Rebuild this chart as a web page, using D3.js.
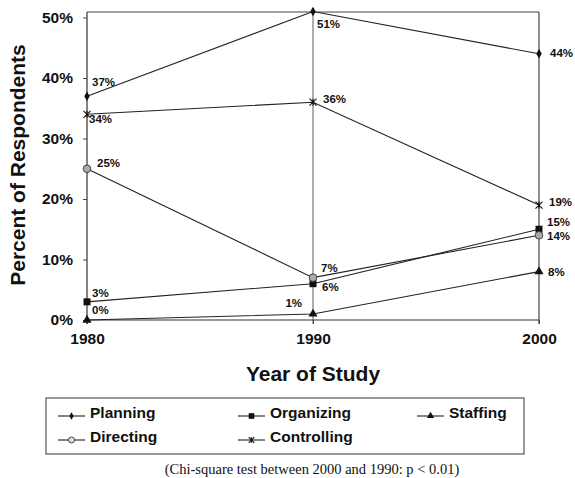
<!DOCTYPE html>
<html><head><meta charset="utf-8">
<script src="https://cdn.jsdelivr.net/npm/d3@7"></script>
<style>
html,body{margin:0;padding:0;background:#fff;}
svg{display:block;}
</style></head>
<body>
<svg id="chart" width="575" height="478"></svg>
<script>
// ---- data ----
const years = [1980, 1990, 2000];
const seriesNames = ["Planning", "Organizing", "Staffing", "Directing", "Controlling"];
const planning    = [37, 51, 44];
const organizing  = [3, 6, 15];
const staffing    = [0, 1, 8];
const directing   = [25, 7, 14];
const controlling = [34, 36, 19];
const yTicks = [0, 10, 20, 30, 40, 50];
const footnote = "(Chi-square test between 2000 and 1990: p < 0.01)";

// label offsets (layout only) per series per year: [dx, dy, anchor]
const labelOffsets = {
  Planning:    [[5,-14,"start"],[4,13,"start"],[11,-1,"start"]],
  Organizing:  [[5,-9,"start"],[9,3,"start"],[8,-7.5,"start"]],
  Staffing:    [[5,-10,"start"],[-11,-11,"end"],[9,0,"start"]],
  Directing:   [[10,-6,"start"],[8,-10,"start"],[8,0.5,"start"]],
  Controlling: [[2,5,"start"],[10,-3,"start"],[10,-3,"start"]]
};

const seriesValues = [planning, organizing, staffing, directing, controlling];
const series = seriesNames.map((n,i)=>({name:n, values:seriesValues[i]}));

const FONT = "'Liberation Sans', Arial, sans-serif";
const svg = d3.select("#chart");
const x = d3.scaleLinear().domain([1980, 2000]).range([87, 539]);
const y = d3.scaleLinear().domain([0, 50]).range([320, 17.5]);
const topY = 12;
const lineColor = "#222";

// frame
svg.append("line").attr("x1",x(1980)).attr("x2",x(2000)).attr("y1",topY).attr("y2",topY)
  .attr("stroke","#444").attr("stroke-width",1.2);
// 1990 vertical
svg.append("line").attr("x1",x(1990)).attr("x2",x(1990)).attr("y1",topY).attr("y2",324)
  .attr("stroke","#777").attr("stroke-width",1.2);
// right border
svg.append("line").attr("x1",x(2000)).attr("x2",x(2000)).attr("y1",topY).attr("y2",324)
  .attr("stroke","#444").attr("stroke-width",1.2);

// y axis
const yAxis = d3.axisLeft(y).tickValues(yTicks).tickSize(4).tickFormat(d=>d+"%");
const gy = svg.append("g").attr("transform",`translate(${x(1980)},0)`).call(yAxis);
gy.select(".domain").remove();
gy.append("line").attr("x1",0).attr("x2",0).attr("y1",topY).attr("y2",324)
  .attr("stroke","#333").attr("stroke-width",1.2);
gy.selectAll(".tick line").attr("stroke","#444");
gy.selectAll(".tick text").attr("x",-14).attr("font-family",FONT).attr("font-size",15.5)
  .attr("font-weight","bold").attr("fill","#111");

// x axis
const xAxis = d3.axisBottom(x).tickValues(years).tickSize(4).tickFormat(d3.format("d"));
const gx = svg.append("g").attr("transform",`translate(0,${y(0)})`).call(xAxis);
gx.select(".domain").attr("stroke","#333").attr("stroke-width",1.2).attr("d",`M${x(1980)},0H${x(2000)}`);
gx.selectAll(".tick line").attr("stroke","#444");
gx.selectAll(".tick text").attr("y",13).attr("font-family",FONT).attr("font-size",15.5)
  .attr("font-weight","bold").attr("fill","#111");

// axis titles
svg.append("text").attr("transform","translate(25,165) rotate(-90)").attr("text-anchor","middle")
  .attr("font-family",FONT).attr("font-size",21).attr("font-weight","bold").attr("fill","#111")
  .text("Percent of Respondents");
svg.append("text").attr("x",313).attr("y",381).attr("text-anchor","middle")
  .attr("font-family",FONT).attr("font-size",21).attr("font-weight","bold").attr("fill","#111")
  .text("Year of Study");

// markers
function drawMarker(g, name, cx, cy, k){
  k = k || 1;
  if(name==="Planning"){
    g.append("path").attr("d",d3.symbol(d3.symbolDiamond,26*k*k)()).attr("transform",`translate(${cx},${cy})`).attr("fill","#111");
  } else if(name==="Organizing"){
    const h=3.5*k;
    g.append("rect").attr("x",cx-h).attr("y",cy-h).attr("width",2*h).attr("height",2*h).attr("fill","#111");
  } else if(name==="Staffing"){
    g.append("path").attr("d",d3.symbol(d3.symbolTriangle,36*k*k)()).attr("transform",`translate(${cx},${cy})`).attr("fill","#111");
  } else if(name==="Directing"){
    g.append("circle").attr("cx",cx).attr("cy",cy).attr("r",3.8*k).attr("fill",k<1?"#ddd":"#aaa").attr("stroke","#444").attr("stroke-width",1);
  } else if(name==="Controlling"){
    const s=3.5*k;
    g.append("path").attr("d",`M${cx-s},${cy-s}L${cx+s},${cy+s}M${cx-s},${cy+s}L${cx+s},${cy-s}M${cx},${cy-s}L${cx},${cy+s}`)
      .attr("stroke","#111").attr("stroke-width",1.1).attr("fill","none");
  }
}

const line = d3.line().x((d,i)=>x(years[i])).y(d=>y(d));
series.forEach(s=>{
  svg.append("path").datum(s.values).attr("d",line).attr("fill","none")
    .attr("stroke",lineColor).attr("stroke-width",1.1);
});
series.forEach(s=>{
  const g = svg.append("g");
  s.values.forEach((v,i)=>{
    drawMarker(g, s.name, x(years[i]), y(v));
    const off = labelOffsets[s.name][i];
    g.append("text").attr("x",x(years[i])+off[0]).attr("y",y(v)+off[1]).attr("dy","0.35em")
      .attr("text-anchor",off[2]).attr("font-family",FONT).attr("font-size",11.5)
      .attr("font-weight","bold").attr("fill","#111").text(v+"%");
  });
});

// legend
const lg = svg.append("g");
lg.append("rect").attr("x",46).attr("y",398).attr("width",478).attr("height",56)
  .attr("fill","none").attr("stroke","#555").attr("stroke-width",1.2);
const legendPos = [[58,413],[238,413],[417,413],[58,437],[238,437]];
series.forEach((s,i)=>{
  const [lx,ly] = legendPos[i];
  lg.append("line").attr("x1",lx).attr("x2",lx+27).attr("y1",ly+3).attr("y2",ly+3)
    .attr("stroke","#222").attr("stroke-width",1.1);
  drawMarker(lg, s.name, lx+13.5, ly+3, 0.8);
  lg.append("text").attr("x",lx+32).attr("y",ly).attr("dy","0.35em")
    .attr("font-family",FONT).attr("font-size",15.5).attr("font-weight","bold").attr("fill","#111")
    .text(s.name);
});

// footnote
svg.append("text").attr("x",312).attr("y",469).attr("dy","0.35em").attr("text-anchor","middle")
  .attr("font-family","'Liberation Serif', 'Times New Roman', serif").attr("font-size",14.5).attr("fill","#111")
  .text(footnote);
</script>
</body></html>
